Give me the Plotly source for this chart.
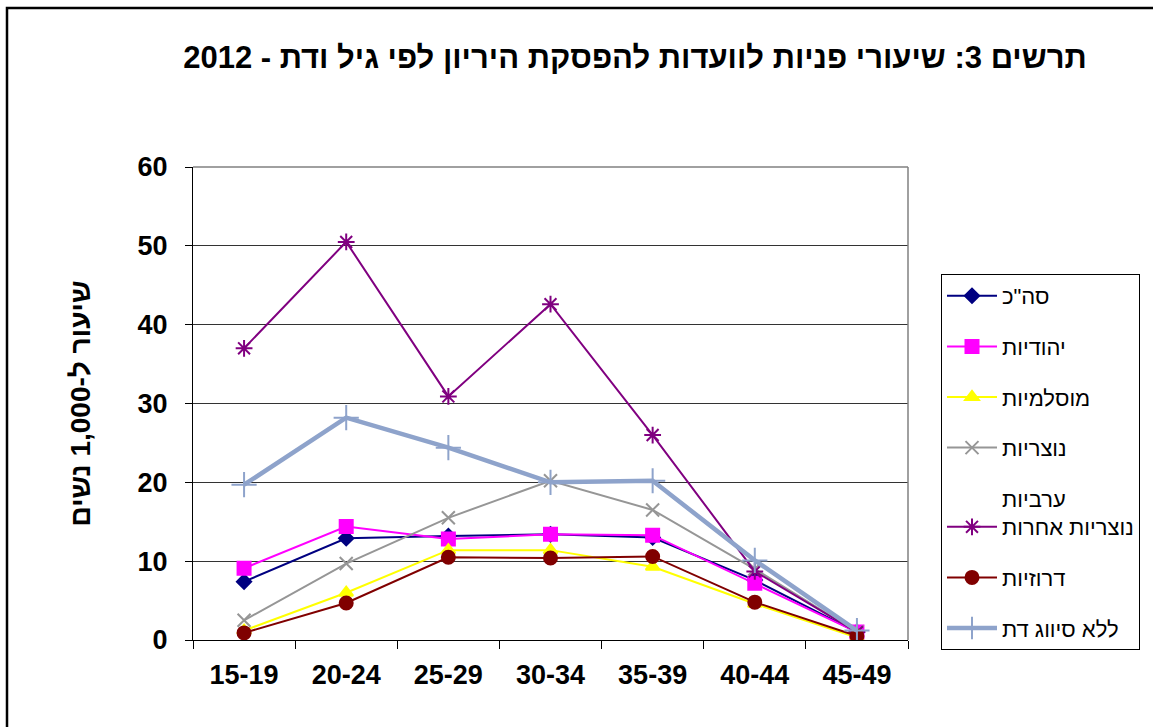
import plotly.graph_objects as go

age_groups = ["15-19", "20-24", "25-29", "30-34", "35-39", "40-44", "45-49"]

total = [7.4, 12.9, 13.2, 13.4, 13.0, 7.6, 1.0]
jewish = [9.1, 14.4, 12.8, 13.4, 13.3, 7.2, 1.0]
muslim = [1.2, 6.0, 11.4, 11.4, 9.3, 4.6, 0.3]
christian = [2.5, 9.7, 15.5, 20.2, 16.5, 9.0, 1.0]
other_christian_arab = [37.0, 50.5, 30.9, 42.6, 26.0, 8.7, 1.0]
druze = [0.9, 4.7, 10.5, 10.4, 10.6, 4.8, 0.5]
no_religion = [19.7, 28.2, 24.4, 20.0, 20.2, 10.1, 1.2]

series_names = ['סה"כ', "יהודיות", "מוסלמיות", "נוצריות",
                "ערביות<br>נוצריות אחרות", "דרוזיות", "ללא סיווג דת"]

title_text = "תרשים 3: שיעורי פניות לוועדות להפסקת היריון לפי גיל ודת - 2012"
y_title = "שיעור ל-1,000 נשים"

FONT = "Liberation Sans, Arial, sans-serif"

styles = [
    dict(color="#000080", symbol="diamond", size=11, width=2),
    dict(color="#FF00FF", symbol="square", size=13, width=2),
    dict(color="#FFFF00", symbol="triangle-up", size=12, width=2),
    dict(color="#969696", symbol="x-thin-open", size=13, width=2),
    dict(color="#800080", symbol="asterisk-open", size=14, width=2),
    dict(color="#800000", symbol="circle", size=13, width=2),
    dict(color="#8EA3CB", symbol="cross-thin-open", size=18, width=4.5),
]
data = [total, jewish, muslim, christian, other_christian_arab, druze, no_religion]

fig = go.Figure()
for i, (name, vals, st) in enumerate(zip(series_names, data, styles)):
    fig.add_trace(go.Scatter(
        x=age_groups, y=vals, name=name, mode="lines+markers",
        legendgroup=f"g{i}",
        line=dict(color=st["color"], width=st["width"]),
        marker=dict(symbol=st["symbol"], size=st["size"], color=st["color"],
                    line=dict(color=st["color"], width=2)),
    ))

# plot area pixel geometry
L, R, T, B = 193, 908, 167, 640
W, H = 1153, 727
pw, ph = R - L, B - T

def px(x):
    return (x - L) / pw

def py(y):
    return (B - y) / ph

fig.update_layout(
    width=W, height=H,
    margin=dict(l=L, r=W - R, t=T, b=H - B, pad=0),
    paper_bgcolor="white", plot_bgcolor="white",
    font=dict(family=FONT, color="black"),
    title=dict(text=f"<b>{title_text}</b>", font=dict(size=31, family=FONT, color="black"),
               x=635 / W, xanchor="center", y=1 - 57 / H, yanchor="middle", xref="container", yref="container"),
    showlegend=True,
    legend=dict(x=px(941), y=py(274), xanchor="left", yanchor="top",
                bordercolor="black", borderwidth=1, bgcolor="white",
                font=dict(size=22, family=FONT, color="black"),
                traceorder="grouped", tracegroupgap=19, valign="bottom",
                itemwidth=50),
    xaxis=dict(showline=True, linecolor="black", linewidth=1,
               ticks="outside", ticklen=8, tickcolor="black", tickson="boundaries",
               showgrid=False, tickfont=dict(size=27, family=FONT, color="black", weight="bold"),
               ticklabelstandoff=11, range=[-0.5, 6.5]),
    yaxis=dict(range=[0, 60], dtick=10, showline=True, linecolor="black", linewidth=1,
               ticks="outside", ticklen=7, tickcolor="black",
               showgrid=True, gridcolor="#333333", gridwidth=1, zeroline=False,
               tickfont=dict(size=27, family=FONT, color="black", weight="bold"),
               ticklabelstandoff=12,
               title=dict(text=f"<b>{y_title}</b>", font=dict(size=28, family=FONT, color="black"),
                          standoff=38)),
    shapes=[
        dict(type="line", xref="paper", yref="paper", x0=0, x1=1, y0=1, y1=1,
             line=dict(color="#808080", width=1.5)),
        dict(type="line", xref="paper", yref="paper", x0=1, x1=1, y0=0, y1=1,
             line=dict(color="#808080", width=1.5)),
        dict(type="rect", xref="paper", yref="paper",
             x0=px(7), x1=px(1170), y0=py(745), y1=py(8),
             line=dict(color="black", width=2.5), fillcolor="rgba(0,0,0,0)"),
    ],
)

fig.write_html("out.html", config={"displayModeBar": False},
               post_script="document.body.style.margin='0';document.body.style.overflow='hidden';")
